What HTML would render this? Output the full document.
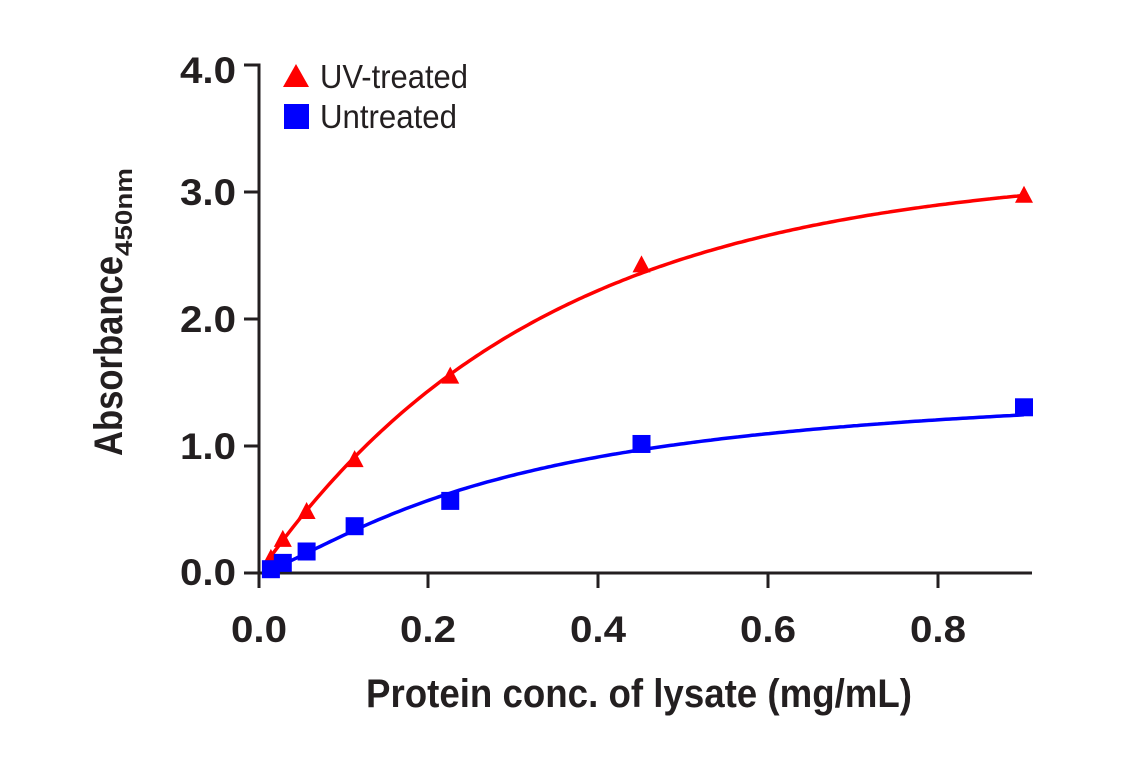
<!DOCTYPE html>
<html><head><meta charset="utf-8"><style>
html,body{margin:0;padding:0;background:#fff;}
svg text{font-family:"Liberation Sans",sans-serif;font-weight:bold;fill:#231f20;}
</style></head><body>
<svg id="s" width="1141" height="768" viewBox="0 0 1141 768" xmlns="http://www.w3.org/2000/svg">
<g stroke="#231f20" stroke-width="3" fill="none">
<polyline points="244,65 259,65 259,588"/>
<line x1="244" y1="573" x2="1032" y2="573"/>
<line x1="244" y1="192" x2="259" y2="192"/>
<line x1="244" y1="319" x2="259" y2="319"/>
<line x1="244" y1="446" x2="259" y2="446"/>
<line x1="428" y1="573" x2="428" y2="588"/>
<line x1="598" y1="573" x2="598" y2="588"/>
<line x1="768" y1="573" x2="768" y2="588"/>
<line x1="938" y1="573" x2="938" y2="588"/>
</g>
<g font-size="37" text-anchor="end">
<text x="236" y="83" textLength="56" lengthAdjust="spacingAndGlyphs">4.0</text>
<text x="236" y="205" textLength="56" lengthAdjust="spacingAndGlyphs">3.0</text>
<text x="236" y="332" textLength="56" lengthAdjust="spacingAndGlyphs">2.0</text>
<text x="236" y="459" textLength="56" lengthAdjust="spacingAndGlyphs">1.0</text>
<text x="236" y="585" textLength="56" lengthAdjust="spacingAndGlyphs">0.0</text>
</g>
<g font-size="37" text-anchor="middle">
<text x="259" y="642" textLength="56" lengthAdjust="spacingAndGlyphs">0.0</text>
<text x="428" y="642" textLength="56" lengthAdjust="spacingAndGlyphs">0.2</text>
<text x="598" y="642" textLength="56" lengthAdjust="spacingAndGlyphs">0.4</text>
<text x="768" y="642" textLength="56" lengthAdjust="spacingAndGlyphs">0.6</text>
<text x="938" y="642" textLength="56" lengthAdjust="spacingAndGlyphs">0.8</text>
</g>
<text x="366" y="707" font-size="40" textLength="546" lengthAdjust="spacingAndGlyphs">Protein conc. of lysate (mg/mL)</text>
<text transform="translate(122,456) rotate(-90)" font-size="40"><tspan textLength="200" lengthAdjust="spacingAndGlyphs">Absorbance</tspan><tspan font-size="24" dy="10" textLength="88" lengthAdjust="spacingAndGlyphs">450nm</tspan></text>
<polygon points="283,87 296,64 309,87" fill="#ff0000"/>
<rect x="284" y="104" width="25" height="25" fill="#0000ff"/>
<text x="320" y="88" font-size="33" style="font-weight:normal" textLength="148" lengthAdjust="spacingAndGlyphs">UV-treated</text>
<text x="320" y="128" font-size="33" style="font-weight:normal" textLength="137" lengthAdjust="spacingAndGlyphs">Untreated</text>
<g id="plot"></g>
</svg>
<script>
var X=function(v){return 259+v*850},Y=function(v){return 573-v*126.5};
var xs=[0.014,0.028,0.056,0.1125,0.225,0.45,0.9];
var red=[0.12,0.27,0.49,0.9,1.56,2.44,2.99],blue=[0.03,0.08,0.17,0.37,0.57,1.02,1.31];
var g=document.getElementById('plot'),ns="http://www.w3.org/2000/svg";
function fr(x){return 3.2*(1-Math.exp(-3*x));}
function fb(x){var n=1.3,b=0.3;return 1.55*Math.pow(x,n)/(Math.pow(b,n)+Math.pow(x,n));}
function curve(f,col){var d="";for(var x=0.012;x<=0.9001;x+=0.004){d+=(d?" L":"M")+X(x).toFixed(1)+","+Y(f(x)).toFixed(1);}
var e=document.createElementNS(ns,"path");e.setAttribute("d",d);e.setAttribute("stroke",col);e.setAttribute("stroke-width","3.5");e.setAttribute("fill","none");g.appendChild(e);}
curve(fr,"#ff0000");curve(fb,"#0000ff");
xs.forEach(function(x,i){var px=X(x),py=Y(red[i]);var e=document.createElementNS(ns,"polygon");e.setAttribute("points",(px-9)+","+(py+8)+" "+px+","+(py-9)+" "+(px+9)+","+(py+8));e.setAttribute("fill","#ff0000");g.appendChild(e);});
xs.forEach(function(x,i){var px=X(x),py=Y(blue[i]);var e=document.createElementNS(ns,"rect");e.setAttribute("x",px-9);e.setAttribute("y",py-9);e.setAttribute("width",18);e.setAttribute("height",18);e.setAttribute("fill","#0000ff");g.appendChild(e);});
</script>
</body></html>
